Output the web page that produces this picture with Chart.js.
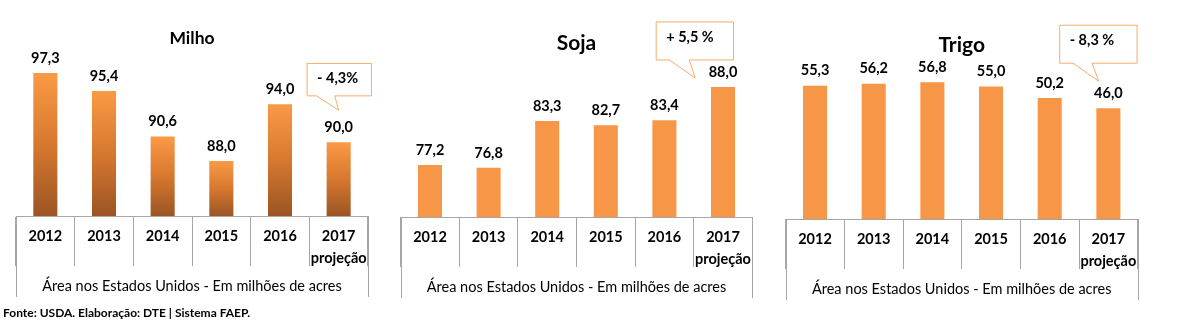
<!DOCTYPE html>
<html>
<head>
<meta charset="utf-8">
<script src="https://cdn.jsdelivr.net/npm/chart.js@4/dist/chart.umd.min.js"></script>
<style>
  html, body { margin: 0; padding: 0; background: #fff; }
  body { width: 1178px; height: 322px; position: relative; overflow: hidden; }
  canvas { position: absolute; top: 0; }
  #fonte { position: absolute; left: 3px; top: 305px; font: bold 12px Lato, sans-serif; color: #000; white-space: nowrap; }
</style>
</head>
<body>
<canvas id="milho" width="390" height="322" style="left:0"></canvas>
<canvas id="soja" width="390" height="322" style="left:390px"></canvas>
<canvas id="trigo" width="398" height="322" style="left:780px"></canvas>
<div id="fonte">Fonte: USDA. Elaboração: DTE | Sistema FAEP.</div>
<script>
// anos (o último é projeção)
const anos = ['2012', '2013', '2014', '2015', '2016', ['2017', 'projeção']];

// área plantada nos EUA, milhões de acres
const milho = [97.3, 95.4, 90.6, 88.0, 94.0, 90.0];
const soja = [77.2, 76.8, 83.3, 82.7, 83.4, 88.0];
const trigo = [55.3, 56.2, 56.8, 55.0, 50.2, 46.0];

// variação 2017/2016
const varMilho = '- 4,3%';
const varSoja = '+ 5,5 %';
const varTrigo = '- 8,3 %';

const tituloEixo = 'Área nos Estados Unidos - Em milhões de acres';
const laranja = '#F79646';
const cinza = '#A6A6A6';
const fonte = 'Lato, sans-serif';

Chart.defaults.color = '#000';
Chart.defaults.font.family = fonte;

// degradê laranja -> marrom em cada barra do milho
function degrade(context) {
  const chart = context.chart;
  const area = chart.chartArea;
  if (!area) return laranja;
  const topo = chart.scales.y.getPixelForValue(context.raw);
  const g = chart.ctx.createLinearGradient(0, topo, 0, area.bottom);
  g.addColorStop(0, '#FA9A45');
  g.addColorStop(0.5, '#D7782F');
  g.addColorStop(1, '#9B5523');
  return g;
}

// valores sobre as barras + balão com a variação
const rotulos = {
  id: 'rotulos',
  afterDatasetsDraw(chart, args, opts) {
    const ctx = chart.ctx;
    const meta = chart.getDatasetMeta(0);
    const valores = chart.data.datasets[0].data;
    ctx.save();
    ctx.fillStyle = '#000';
    ctx.font = 'bold 14.5px ' + fonte;
    ctx.textAlign = 'center';
    ctx.textBaseline = 'middle';
    meta.data.forEach((bar, i) => {
      ctx.fillText(valores[i].toFixed(1).replace('.', ','), bar.x, bar.y - 15);
    });

    // balão ancorado na última barra
    const ult = meta.data[meta.data.length - 1];
    const b = opts;
    const x0 = ult.x + b.box[0], x1 = ult.x + b.box[1];
    const y0 = ult.y + b.box[2], y1 = ult.y + b.box[3];
    const pa = ult.x + b.base[0], pb = ult.x + b.base[1];
    const tx = ult.x + b.tip[0], ty = ult.y + b.tip[1];
    ctx.beginPath();
    ctx.moveTo(x0, y0);
    ctx.lineTo(x1, y0);
    ctx.lineTo(x1, y1);
    ctx.lineTo(pb, y1);
    ctx.lineTo(tx, ty);
    ctx.lineTo(pa, y1);
    ctx.lineTo(x0, y1);
    ctx.closePath();
    ctx.fillStyle = '#fff';
    ctx.fill();
    ctx.strokeStyle = '#F6AC6E';
    ctx.lineWidth = 1;
    ctx.stroke();
    ctx.fillStyle = '#000';
    ctx.font = 'bold 14.5px ' + fonte;
    ctx.textAlign = 'left';
    ctx.fillText(b.texto, x0 + 10, y0 + 15);
    ctx.restore();
  },
  afterDraw(chart) {
    // bordas externas da tabela de anos
    const x = chart.scales.x;
    const ctx = chart.ctx;
    ctx.save();
    ctx.strokeStyle = cinza;
    ctx.lineWidth = 1;
    ctx.beginPath();
    [x.left, x.right].forEach(px => {
      const p = Math.round(px) + 0.5;
      ctx.moveTo(p, x.top);
      ctx.lineTo(p, x.bottom);
    });
    ctx.stroke();
    ctx.restore();
  }
};

function grafico(id, titulo, tamTitulo, padTitulo, valores, cor, ymin, ymax, padding, balao) {
  return new Chart(document.getElementById(id), {
    type: 'bar',
    data: {
      labels: anos,
      datasets: [{
        data: valores,
        backgroundColor: cor,
        categoryPercentage: 0.41,
        barPercentage: 1
      }]
    },
    options: {
      responsive: false,
      animation: false,
      devicePixelRatio: 1,
      layout: { padding: padding },
      plugins: {
        legend: { display: false },
        tooltip: { enabled: false },
        title: {
          display: true,
          text: titulo,
          color: '#000',
          font: { family: fonte, size: tamTitulo, weight: 'bold', lineHeight: 1 },
          padding: padTitulo
        },
        rotulos: balao
      },
      scales: {
        y: { display: false, min: ymin, max: ymax },
        x: {
          offset: true,
          border: { color: cinza, width: 1 },
          grid: {
            offset: true,
            drawOnChartArea: false,
            color: cinza,
            tickColor: cinza,
            tickLength: 50
          },
          ticks: {
            autoSkip: false,
            maxRotation: 0,
            minRotation: 0,
            padding: -40,
            color: '#000',
            font: { family: fonte, size: 14.5, weight: 'bold', lineHeight: 1.49 }
          },
          title: {
            display: true,
            text: tituloEixo,
            color: '#000',
            font: { family: fonte, size: 14.5, lineHeight: 1.2 },
            padding: { top: 0, bottom: 2 }
          },
          afterFit(scale) { scale.height = 81; }
        }
      }
    },
    plugins: [rotulos]
  });
}

grafico('milho', 'Milho', 17.5, { top: 30, bottom: 0 }, milho, degrade, 82.2, 100,
  { left: 16, right: 22, top: 0, bottom: 25 },
  { texto: varMilho, box: [-31.6, 32.8, -78.7, -46.3], base: [-22.2, -3.9], tip: [0, -32] });

grafico('soja', 'Soja', 21, { top: 32.5, bottom: 19 }, soja, laranja, 70, 90,
  { left: 10.7, right: 27.7, top: 0, bottom: 24 },
  { texto: varSoja, box: [-66.8, 10.5, -65, -27], base: [-53.8, -33.8], tip: [-27.8, -9] });

grafico('trigo', 'Trigo', 21, { top: 34.5, bottom: 19 }, trigo, laranja, 0, 60,
  { left: 5.7, right: 40.3, top: 0, bottom: 22 },
  { texto: varTrigo, box: [-48.7, 28.7, -83, -45], base: [-35.3, -16.3], tip: [-9.7, -27] });
</script>
</body>
</html>
